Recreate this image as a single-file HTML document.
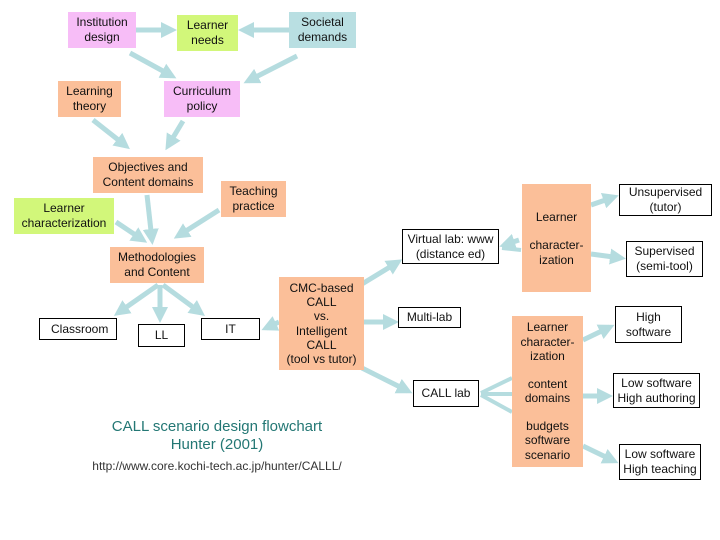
<!DOCTYPE html>
<html><head><meta charset="utf-8"><style>
body{margin:0;background:#fff;}
#c{position:relative;width:720px;height:540px;overflow:hidden;font-family:"Liberation Sans",sans-serif;font-size:12px;color:#111;}
.b{position:absolute;display:flex;align-items:center;justify-content:center;text-align:center;line-height:15px;box-sizing:border-box;}
.pk{background:#f7bdf7}.gr{background:#d2f77a}.bl{background:#b9dfe2}.sa{background:#fbbf99}
.w{background:#fff;border:1px solid #000}
svg{position:absolute;left:0;top:0}
.t{position:absolute;left:0;width:434px;text-align:center;color:#237774}
</style></head><body><div id="c">
<svg width="720" height="540">
<defs><marker id="a" markerWidth="3.2" markerHeight="3.2" refX="2.2" refY="1.6" orient="auto"><path d="M0,0L3.2,1.6L0,3.2z" fill="#b5dcdf"/></marker></defs>
<g stroke="#b5dcdf" stroke-width="5" fill="none" marker-end="url(#a)">
<line x1="136" y1="30" x2="172" y2="30"/>
<line x1="289" y1="30" x2="243" y2="30"/>
<line x1="130" y1="53" x2="172" y2="76"/>
<line x1="297" y1="56" x2="248" y2="81"/>
<line x1="93" y1="120" x2="126" y2="146"/>
<line x1="183" y1="121" x2="168" y2="146"/>
<line x1="147" y1="195" x2="152" y2="240"/>
<line x1="116" y1="222" x2="143" y2="240"/>
<line x1="219" y1="210" x2="178" y2="236"/>
<line x1="158" y1="285" x2="118" y2="313"/>
<line x1="160" y1="285" x2="160" y2="318"/>
<line x1="163" y1="285" x2="201" y2="313"/>
<line x1="279" y1="322" x2="266" y2="328"/>
<line x1="362" y1="284" x2="398" y2="262"/>
<line x1="362" y1="322" x2="394" y2="322"/>
<line x1="362" y1="368" x2="408" y2="391"/>
<line x1="519" y1="240" x2="504" y2="245"/>
<line x1="591" y1="205" x2="614" y2="197"/>
<line x1="591" y1="254" x2="621" y2="258"/>
<line x1="583" y1="340" x2="610" y2="327"/>
<line x1="583" y1="396" x2="608" y2="396"/>
<line x1="583" y1="446" x2="614" y2="461"/>
</g>
<g stroke="#b5dcdf" stroke-width="4">
<line x1="481" y1="393" x2="512" y2="378"/>
<line x1="481" y1="394" x2="512" y2="394"/>
<line x1="481" y1="395" x2="512" y2="412"/>
<line x1="502" y1="248" x2="521" y2="250"/>
</g>
</svg>
<div class="b pk" style="left:68px;top:12px;width:68px;height:36px">Institution<br>design</div>
<div class="b gr" style="left:177px;top:15px;width:61px;height:36px">Learner<br>needs</div>
<div class="b bl" style="left:289px;top:12px;width:67px;height:36px">Societal<br>demands</div>
<div class="b sa" style="left:58px;top:81px;width:63px;height:36px">Learning<br>theory</div>
<div class="b pk" style="left:164px;top:81px;width:76px;height:36px">Curriculum<br>policy</div>
<div class="b sa" style="left:93px;top:157px;width:110px;height:36px">Objectives and<br>Content domains</div>
<div class="b sa" style="left:221px;top:181px;width:65px;height:36px">Teaching<br>practice</div>
<div class="b gr" style="left:14px;top:198px;width:100px;height:36px">Learner<br>characterization</div>
<div class="b sa" style="left:110px;top:247px;width:94px;height:36px">Methodologies<br>and Content</div>
<div class="b w" style="left:39px;top:318px;width:78px;height:22px;justify-content:flex-start;padding-left:11px">Classroom</div>
<div class="b w" style="left:138px;top:324px;width:47px;height:23px">LL</div>
<div class="b w" style="left:201px;top:318px;width:59px;height:22px">IT</div>
<div class="b sa" style="left:279px;top:277px;width:85px;height:93px;line-height:14.3px">CMC-based<br>CALL<br>vs.<br>Intelligent<br>CALL<br>(tool vs tutor)</div>
<div class="b w" style="left:402px;top:229px;width:97px;height:35px">Virtual lab: www<br>(distance ed)</div>
<div class="b w" style="left:398px;top:307px;width:63px;height:21px">Multi-lab</div>
<div class="b w" style="left:413px;top:380px;width:66px;height:27px">CALL lab</div>
<div class="b sa" style="left:522px;top:184px;width:69px;height:108px;display:block;padding-top:26px">Learner<br><div style="height:13px"></div>character-<br>ization</div>
<div class="b sa" style="left:512px;top:316px;width:71px;height:151px;display:block;padding-top:4px;line-height:14.5px">Learner<br>character-<br>ization<br><div style="height:13px"></div>content<br>domains<br><div style="height:13px"></div>budgets<br>software<br>scenario</div>
<div class="b w" style="left:619px;top:184px;width:93px;height:32px">Unsupervised<br>(tutor)</div>
<div class="b w" style="left:626px;top:241px;width:77px;height:36px">Supervised<br>(semi-tool)</div>
<div class="b w" style="left:615px;top:306px;width:67px;height:37px">High<br>software</div>
<div class="b w" style="left:613px;top:373px;width:87px;height:35px">Low software<br>High authoring</div>
<div class="b w" style="left:619px;top:444px;width:82px;height:36px">Low software<br>High teaching</div>
<div class="t" style="top:418px;font-size:15px;line-height:18px">CALL scenario design flowchart<br>Hunter (2001)</div>
<div class="t" style="top:459px;font-size:12px;color:#333">http://www.core.kochi-tech.ac.jp/hunter/CALLL/</div>
</div></body></html>
